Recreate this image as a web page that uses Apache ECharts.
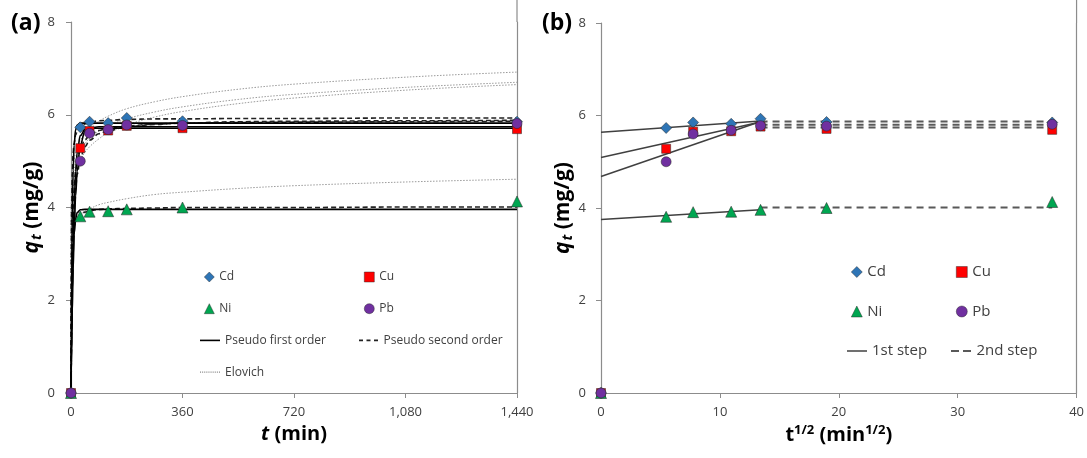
<!DOCTYPE html>
<html><head><meta charset="utf-8">
<script src="https://cdn.jsdelivr.net/npm/echarts@6/dist/echarts.min.js"></script>
<style>html,body{margin:0;padding:0;background:#fff}#c{width:1087px;height:458px}</style>
</head><body><div id="c"></div>
<script>
// ---------- measured data ----------
const tMin = [0, 30, 60, 120, 180, 360, 1440];
const sqrtT = [0, 5.48, 7.75, 10.95, 13.42, 18.97, 37.95];
const qCd = [0, 5.73, 5.85, 5.82, 5.93, 5.86, 5.85];
const qCu = [0, 5.28, 5.65, 5.66, 5.76, 5.71, 5.69];
const qNi = [0, 3.81, 3.91, 3.92, 3.96, 4.00, 4.13];
const qPb = [0, 5.00, 5.60, 5.68, 5.78, 5.77, 5.81];

// model curves
const modelT = [0, 1, 2, 4, 7, 10, 15, 20, 30, 45, 60, 90, 120, 180, 270, 360, 540, 720, 1080, 1440];
const pfoCd = [0, 1.29, 2.29, 3.68, 4.81, 5.34, 5.68, 5.78, 5.82, 5.82, 5.82, 5.82, 5.82, 5.82, 5.82, 5.82, 5.82, 5.82, 5.82, 5.82];
const pfoCu = [0, 0.65, 1.22, 2.18, 3.24, 3.99, 4.77, 5.19, 5.55, 5.68, 5.71, 5.71, 5.71, 5.71, 5.71, 5.71, 5.71, 5.71, 5.71, 5.71];
const pfoNi = [0, 0.72, 1.31, 2.18, 2.98, 3.43, 3.76, 3.89, 3.95, 3.96, 3.96, 3.96, 3.96, 3.96, 3.96, 3.96, 3.96, 3.96, 3.96, 3.96];
const pfoPb = [0, 0.49, 0.95, 1.73, 2.68, 3.40, 4.25, 4.79, 5.35, 5.64, 5.71, 5.74, 5.74, 5.74, 5.74, 5.74, 5.74, 5.74, 5.74, 5.74];
const psoCd = [0, 2.97, 3.95, 4.74, 5.19, 5.39, 5.56, 5.65, 5.74, 5.80, 5.83, 5.87, 5.88, 5.90, 5.91, 5.91, 5.92, 5.92, 5.93, 5.93];
const psoCu = [0, 1.35, 2.20, 3.20, 3.97, 4.40, 4.80, 5.03, 5.28, 5.46, 5.56, 5.66, 5.71, 5.76, 5.80, 5.82, 5.83, 5.84, 5.85, 5.86];
const psoNi = [0, 1.78, 2.47, 3.06, 3.40, 3.56, 3.70, 3.77, 3.85, 3.90, 3.93, 3.96, 3.97, 3.98, 3.99, 4.00, 4.00, 4.00, 4.01, 4.01];
const psoPb = [0, 0.98, 1.69, 2.62, 3.44, 3.93, 4.43, 4.72, 5.06, 5.31, 5.45, 5.59, 5.66, 5.74, 5.79, 5.82, 5.85, 5.86, 5.87, 5.88];
const eloCd = [0, 3.60, 3.89, 4.18, 4.41, 4.56, 4.73, 4.85, 5.02, 5.19, 5.31, 5.48, 5.61, 5.78, 5.95, 6.07, 6.24, 6.36, 6.53, 6.65];
const eloCu = [0, 4.15, 4.42, 4.68, 4.89, 5.03, 5.18, 5.29, 5.44, 5.60, 5.71, 5.86, 5.97, 6.13, 6.28, 6.39, 6.55, 6.66, 6.81, 6.92];
const eloNi = [0, 3.16, 3.29, 3.43, 3.54, 3.62, 3.70, 3.75, 3.84, 3.92, 3.97, 4.06, 4.11, 4.19, 4.28, 4.33, 4.41, 4.47, 4.55, 4.61];
const eloPb = [0, 3.94, 4.20, 4.46, 4.68, 4.81, 4.97, 5.07, 5.23, 5.38, 5.49, 5.65, 5.76, 5.91, 6.06, 6.17, 6.33, 6.44, 6.59, 6.70];

// intraparticle diffusion lines
const step1X = [0, 13.42];
const s1Cd = [5.64, 5.88];
const s1Cu = [5.09, 5.86];
const s1Ni = [3.75, 3.96];
const s1Pb = [4.68, 5.87];
const step2X = [13.42, 37.95];
const s2Cd = [5.87, 5.87];
const s2Cu = [5.74, 5.74];
const s2Ni = [4.01, 4.01];
const s2Pb = [5.80, 5.80];

const xTicksA = [0, 360, 720, 1080, 1440];
const xTicksB = [0, 10, 20, 30, 40];
const yTicks = [0, 2, 4, 6, 8];

// ---------- chart ----------
const FF = "'Open Sans', 'Noto Sans', sans-serif";
const pairs = (xs, ys) => xs.map((x, i) => [x, ys[i]]);
const metals = [
  {name: 'Cd', q: qCd, sym: 'diamond', size: 11, color: '#2E75B6'},
  {name: 'Cu', q: qCu, sym: 'rect', size: 9, color: '#FF0000'},
  {name: 'Ni', q: qNi, sym: 'triangle', size: 11, color: '#00A651'},
  {name: 'Pb', q: qPb, sym: 'circle', size: 10, color: '#7030A0'}
];
const series = [];
function modelLine(name, ys, style, mono) {
  series.push({type: 'line', name: name, xAxisIndex: 0, yAxisIndex: 0, data: pairs(modelT, ys),
    symbol: 'none', showSymbol: false, smooth: 0.4, smoothMonotone: mono ? 'x' : null,
    lineStyle: style, itemStyle: {color: style.color}, silent: true});
}
const eloStyle = {color: '#9a9a9a', width: 1, type: [1.5, 1.5]};
const pfoStyle = {color: '#000000', width: 1.6, type: 'solid'};
const psoStyle = {color: '#222222', width: 1.6, type: [5, 3]};
[eloCd, eloCu, eloNi, eloPb].forEach(d => modelLine('Elovich', d, eloStyle, false));
[psoCd, psoCu, psoNi, psoPb].forEach(d => modelLine('Pseudo second order', d, psoStyle, true));
[pfoCd, pfoCu, pfoNi, pfoPb].forEach(d => modelLine('Pseudo first order', d, pfoStyle, true));

const s1Style = {color: '#404040', width: 1.5, type: 'solid'};
const s2Style = {color: '#595959', width: 2, type: [7, 5]};
[s1Cd, s1Cu, s1Ni, s1Pb].forEach(d => series.push({type: 'line', name: '1st step', xAxisIndex: 1, yAxisIndex: 1,
  data: pairs(step1X, d), symbol: 'none', showSymbol: false, lineStyle: s1Style, itemStyle: {color: s1Style.color}, silent: true}));
[s2Cd, s2Cu, s2Ni, s2Pb].forEach(d => series.push({type: 'line', name: '2nd step', xAxisIndex: 1, yAxisIndex: 1,
  data: pairs(step2X, d), symbol: 'none', showSymbol: false, lineStyle: s2Style, itemStyle: {color: s2Style.color}, silent: true}));

metals.forEach(m => {
  const st = {color: m.color, borderColor: 'rgba(40,40,40,0.75)', borderWidth: 0.7, opacity: 1};
  series.push({type: 'scatter', name: m.name, xAxisIndex: 0, yAxisIndex: 0, data: pairs(tMin, m.q),
    symbol: m.sym, symbolSize: m.size, itemStyle: st, z: 5});
  series.push({type: 'scatter', name: m.name, xAxisIndex: 1, yAxisIndex: 1, data: pairs(sqrtT, m.q),
    symbol: m.sym, symbolSize: m.size, itemStyle: st, z: 5});
});

const axisCol = '#8c8c8c';
const labelStyle = {fontFamily: FF, fontSize: 13, color: '#404040'};
function xAxis(grid, max, interval, ticks, name, fmt) {
  return {type: 'value', gridIndex: grid, min: ticks[0], max: max, interval: interval,
    axisLine: {show: true, lineStyle: {color: axisCol, width: 1.2}},
    axisTick: {show: true, length: 5, lineStyle: {color: axisCol}},
    splitLine: {show: false},
    axisLabel: Object.assign({margin: 13, formatter: fmt}, labelStyle),
    name: name, nameLocation: 'middle', nameGap: 27,
    nameTextStyle: {fontFamily: FF, fontSize: 20, fontWeight: 'bold', color: '#000',
      rich: {
        it: {fontFamily: FF, fontSize: 20, fontWeight: 'bold', fontStyle: 'italic', color: '#000'},
        n: {fontFamily: FF, fontSize: 20, fontWeight: 'bold', color: '#000'},
        sup: {fontFamily: FF, fontSize: 13, fontWeight: 'bold', color: '#000', verticalAlign: 'top', padding: [0, 0, 10, 0]}
      }}
  };
}
function yAxis(grid, margin, gap) {
  return {type: 'value', gridIndex: grid, min: yTicks[0], max: yTicks[yTicks.length - 1], interval: yTicks[1] - yTicks[0],
    axisLine: {show: true, lineStyle: {color: axisCol, width: 1.2}},
    axisTick: {show: true, length: 5, lineStyle: {color: axisCol}},
    splitLine: {show: false},
    axisLabel: Object.assign({margin: margin}, labelStyle),
    name: '{q|q}{sub|t}{n| (mg/g)}', nameLocation: 'middle', nameRotate: 90, nameGap: gap,
    nameTextStyle: {rich: {
      q: {fontFamily: FF, fontSize: 21, fontWeight: 'bold', fontStyle: 'italic', color: '#000'},
      sub: {fontFamily: FF, fontSize: 14, fontWeight: 'bold', fontStyle: 'italic', color: '#000', verticalAlign: 'bottom', padding: [10, 0, 0, 1]},
      n: {fontFamily: FF, fontSize: 21, fontWeight: 'bold', color: '#000'}
    }}
  };
}
function rightFrame(grid) {
  return {type: 'value', gridIndex: grid, position: 'right', min: 0, max: 8,
    axisLine: {show: true, lineStyle: {color: axisCol, width: 1.2}},
    axisTick: {show: false}, axisLabel: {show: false}, splitLine: {show: false}};
}

// legend icons (drawn by the legend component)
const ICON_SOLID = 'path://M0,0H20V1.6H0Z';
const ICON_PSO = 'path://M0,0H4V1.6H0Z M7.5,0H11.5V1.6H7.5Z M15,0H19V1.6H15Z';
const ICON_DOT = 'path://M0,0H1V1.1H0Z M2,0H3V1.1H2Z M4,0H5V1.1H4Z M6,0H7V1.1H6Z M8,0H9V1.1H8Z M10,0H11V1.1H10Z M12,0H13V1.1H12Z M14,0H15V1.1H14Z M16,0H17V1.1H16Z M18,0H19V1.1H18Z';
const ICON_S1 = 'path://M0,0H20V1.5H0Z';
const ICON_S2 = 'path://M0,0H8V2H0Z M12,0H20V2H12Z';
const lineItem = (name, icon, color) => ({name: name, icon: icon, itemStyle: {color: color, borderWidth: 0}});

function legend(left, top, w, h, gap, fs, lh, data, bw) {
  return {left: left, top: top, orient: 'vertical', padding: 0, itemWidth: w, itemHeight: h, itemGap: gap,
    selectedMode: false, symbolKeepAspect: true,
    itemStyle: {borderWidth: bw, borderColor: 'rgba(40,40,40,0.75)'},
    textStyle: {fontFamily: FF, fontSize: fs, color: '#404040', lineHeight: lh}, data: data};
}
const pitchA = 31.7, pitchB = 39.5;
const option = {
  animation: false,
  backgroundColor: '#ffffff',
  title: [
    {text: '(a)', left: 11, top: 12, padding: 0, textStyle: {fontFamily: FF, fontSize: 23, fontWeight: 'bold', color: '#000'}},
    {text: '(b)', left: 542, top: 12, padding: 0, textStyle: {fontFamily: FF, fontSize: 23, fontWeight: 'bold', color: '#000'}}
  ],
  grid: [
    {left: 71, top: 22, width: 446, height: 371},
    {left: 601, top: 23, width: 478, height: 370}
  ],
  xAxis: [
    xAxis(0, xTicksA[xTicksA.length - 1], xTicksA[1] - xTicksA[0], xTicksA, '{it|t}{n| (min)}', v => v.toLocaleString('en-US')),
    xAxis(1, xTicksB[xTicksB.length - 1], xTicksB[1] - xTicksB[0], xTicksB, '{n|t}{sup|1/2}{n| (min}{sup|1/2}{n|)}', v => String(v))
  ],
  yAxis: [yAxis(0, 16, 26), yAxis(1, 15, 22), rightFrame(0), rightFrame(1)],
  legend: [
    legend(204, 270, 10, 10, pitchA - 14, 12, 14, ['Cd', 'Ni'], 0.6),
    legend(364, 270, 10, 10, pitchA - 14, 12, 14, ['Cu', 'Pb'], 0.6),
    legend(200, 270 + 2 * pitchA, 20, 1.6, pitchA - 14, 12, 14,
      [lineItem('Pseudo first order', ICON_SOLID, '#000'), lineItem('Elovich', ICON_DOT, '#8a8a8a')], 0),
    legend(359, 270 + 2 * pitchA, 20, 1.6, pitchA - 14, 12, 14,
      [lineItem('Pseudo second order', ICON_PSO, '#222')], 0),
    legend(851, 263, 11, 11, pitchB - 18, 15, 18, ['Cd', 'Ni'], 0.6),
    legend(956, 263, 11, 11, pitchB - 18, 15, 18, ['Cu', 'Pb'], 0.6),
    legend(847, 263 + 2 * pitchB, 20, 1.5, pitchB - 18, 15, 18, [lineItem('1st step', ICON_S1, '#404040')], 0),
    legend(951, 263 + 2 * pitchB, 21, 2, pitchB - 18, 15, 18, [lineItem('2nd step', ICON_S2, '#595959')], 0)
  ],
  series: series
};
const chart = echarts.init(document.getElementById('c'), null, {renderer: 'canvas'});
chart.setOption(option);

// extend the right frame lines of both plot areas up to the top edge, as in the reference
const topA = chart.convertToPixel({gridIndex: 0}, [xTicksA[xTicksA.length - 1], yTicks[yTicks.length - 1]]);
const topB = chart.convertToPixel({gridIndex: 1}, [xTicksB[xTicksB.length - 1], yTicks[yTicks.length - 1]]);
chart.setOption({graphic: [
  {type: 'line', shape: {x1: topA[0], y1: 0, x2: topA[0], y2: topA[1]}, style: {stroke: axisCol, lineWidth: 1.2}, silent: true},
  {type: 'line', shape: {x1: topB[0], y1: 0, x2: topB[0], y2: topB[1]}, style: {stroke: axisCol, lineWidth: 1.2}, silent: true}
]});
</script></body></html>
